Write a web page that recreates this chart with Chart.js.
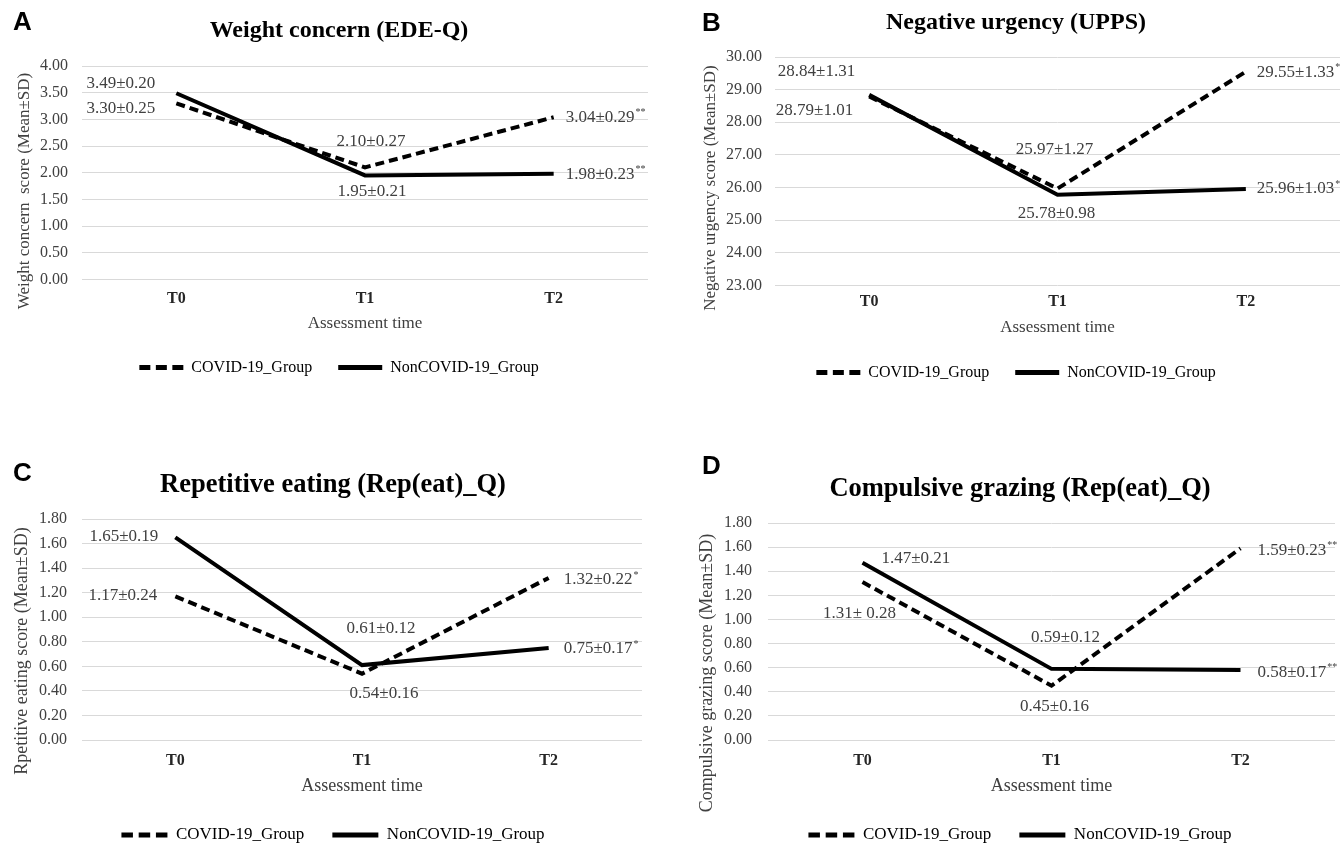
<!doctype html>
<html lang="en">
 <head>
  <meta charset="utf-8">
  <title>COVID-19 vs NonCOVID-19 groups, T0-T2</title>
  <style>
body { margin: 0; width: 1340px; height: 843px; overflow: hidden; background: #fff; position: relative; }
canvas { position: absolute; }
  </style>
 </head>
 <body>
  <canvas id="chartA" width="670" height="390" style="left:0;top:0"></canvas>
  <canvas id="chartB" width="670" height="395" style="left:670px;top:0"></canvas>
  <canvas id="chartC" width="670" height="414" style="left:0;top:440px"></canvas>
  <canvas id="chartD" width="670" height="414" style="left:670px;top:440px"></canvas>

  <script src="https://cdn.jsdelivr.net/npm/chart.js@4.4.1/dist/chart.umd.min.js"></script>
  <script>
// data
const timepoints = ['T0', 'T1', 'T2'];

const weightCovid = [3.30, 2.10, 3.04];
const weightNonCovid = [3.49, 1.95, 1.98];
const weightCovidText = ['3.30±0.25', '2.10±0.27', '3.04±0.29'];
const weightNonCovidText = ['3.49±0.20', '1.95±0.21', '1.98±0.23'];
const weightStars = ['', '', '**'];

const urgencyCovid = [28.79, 25.97, 29.55];
const urgencyNonCovid = [28.84, 25.78, 25.96];
const urgencyCovidText = ['28.79±1.01', '25.97±1.27', '29.55±1.33'];
const urgencyNonCovidText = ['28.84±1.31', '25.78±0.98', '25.96±1.03'];
const urgencyStars = ['', '', '*'];

const repeatCovid = [1.17, 0.54, 1.32];
const repeatNonCovid = [1.65, 0.61, 0.75];
const repeatCovidText = ['1.17±0.24', '0.54±0.16', '1.32±0.22'];
const repeatNonCovidText = ['1.65±0.19', '0.61±0.12', '0.75±0.17'];
const repeatStars = ['', '', '*'];

const grazingCovid = [1.31, 0.45, 1.59];
const grazingNonCovid = [1.47, 0.59, 0.58];
const grazingCovidText = ['1.31± 0.28', '0.45±0.16', '1.59±0.23'];
const grazingNonCovidText = ['1.47±0.21', '0.59±0.12', '0.58±0.17'];
const grazingStars = ['', '', '**'];

const serif = "'Liberation Serif', 'Times New Roman', serif";

// panel letter + rotated y title (Excel centres it a bit lower than chart.js would)
const panelText = {
  id: 'panelText',
  afterDraw(chart, args, opts) {
    const ctx = chart.ctx;
    ctx.save();
    ctx.fillStyle = '#000';
    ctx.font = "bold 26px 'Liberation Sans', Arial, sans-serif";
    ctx.textAlign = 'left';
    ctx.textBaseline = 'middle';
    ctx.fillText(opts.letter, opts.letterAt[0], opts.letterAt[1]);
    ctx.translate(opts.yTitleAt[0], opts.yTitleAt[1]);
    ctx.rotate(-Math.PI / 2);
    ctx.textAlign = 'center';
    ctx.fillStyle = '#404040';
    ctx.font = opts.yTitleSize + 'px ' + serif;
    ctx.fillText(opts.yTitle, 0, 0);
    ctx.restore();
  }
};

// "mean±sd" labels next to each point, stars as superscript
const valueLabels = {
  id: 'valueLabels',
  afterDatasetsDraw(chart, args, opts) {
    const ctx = chart.ctx;
    ctx.save();
    ctx.textBaseline = 'middle';
    ctx.textAlign = 'left';
    ctx.fillStyle = '#404040';
    chart.data.datasets.forEach(function(ds, i) {
      chart.getDatasetMeta(i).data.forEach(function(pt, j) {
        const place = opts.place[i][j];
        const text = opts.text[i][j];
        const stars = opts.stars[j];
        ctx.font = '17px ' + serif;
        const w = ctx.measureText(text).width;
        ctx.font = '10px ' + serif;
        const sw = stars ? ctx.measureText(stars).width + 1 : 0;
        let x = pt.x + place[0];
        if (place[2] === 'right') x -= w + sw;
        else if (place[2] === 'center') x -= (w + sw) / 2;
        const y = pt.y + place[1];
        ctx.font = '17px ' + serif;
        ctx.fillText(text, x, y);
        if (stars) {
          ctx.font = '10px ' + serif;
          ctx.fillText(stars, x + w + 1, y - 5);
        }
      });
    });
    ctx.restore();
  }
};

function makePanel(p) {
  return new Chart(document.getElementById(p.id), {
    type: 'line',
    data: {
      labels: timepoints,
      datasets: [
        {
          label: 'COVID-19_Group',
          data: p.covid,
          borderColor: '#000',
          borderWidth: 4,
          borderDash: [9, 5],
          pointRadius: 0,
          tension: 0
        },
        {
          label: 'NonCOVID-19_Group',
          data: p.noncovid,
          borderColor: '#000',
          borderWidth: 4,
          pointRadius: 0,
          tension: 0
        }
      ]
    },
    options: {
      responsive: false,
      animation: false,
      layout: { padding: { left: p.pad[0], right: p.pad[1], top: 0, bottom: p.pad[2] } },
      scales: {
        x: {
          offset: true,
          grid: { display: false, drawTicks: false },
          border: { display: false },
          ticks: { padding: p.xTickPad, color: '#262626', font: { family: serif, size: 16, weight: 'bold' } },
          title: {
            display: true,
            text: 'Assessment time',
            color: '#404040',
            font: { family: serif, size: p.xTitleSize },
            padding: { top: 0, bottom: p.xTitlePad }
          },
          afterFit: function(scale) { scale.height = p.xHeight; }
        },
        y: {
          min: p.yMin,
          max: p.yMax,
          grid: { color: '#d9d9d9', lineWidth: 1, drawTicks: false },
          border: { display: false },
          ticks: {
            stepSize: p.yStep,
            padding: p.yTickPad,
            color: '#404040',
            font: { family: serif, size: 16 },
            callback: function(v) { return Number(v).toFixed(2); }
          },
          afterFit: function(scale) { scale.width = p.yWidth; }
        }
      },
      plugins: {
        title: {
          display: true,
          text: p.title,
          color: '#000',
          font: { family: serif, size: p.titleSize, weight: 'bold' },
          padding: { top: p.titlePad[0], bottom: p.titlePad[1] }
        },
        legend: {
          position: 'bottom',
          labels: {
            usePointStyle: true,
            pointStyleWidth: p.legendBox,
            padding: p.legendPad,
            color: '#262626',
            font: { family: serif, size: p.legendSize },
            generateLabels: function(chart) {
              return chart.data.datasets.map(function(ds, i) {
                return {
                  text: ds.label,
                  datasetIndex: i,
                  pointStyle: 'line',
                  lineWidth: 5,
                  strokeStyle: '#000',
                  fillStyle: '#000',
                  // three dashes across the sample, like the Excel legend
                  lineDash: ds.borderDash ? [p.legendBox / 4, p.legendBox / 8] : []
                };
              });
            }
          }
        },
        tooltip: { enabled: false },
        panelText: {
          letter: p.letter,
          letterAt: p.letterAt,
          yTitle: p.yTitle,
          yTitleAt: p.yTitleAt,
          yTitleSize: p.yTitleSize
        },
        valueLabels: { text: p.text, stars: p.stars, place: p.place }
      }
    },
    plugins: [panelText, valueLabels]
  });
}

makePanel({
  id: 'chartA', letter: 'A', letterAt: [13, 23],
  title: 'Weight concern (EDE-Q)', titleSize: 24, titlePad: [16.6, 20.6],
  yTitle: 'Weight concern  score (Mean±SD)', yTitleAt: [25, 191], yTitleSize: 17,
  covid: weightCovid, noncovid: weightNonCovid,
  text: [weightCovidText, weightNonCovidText], stars: weightStars,
  place: [
    [[-21, 5, 'right'], [6, -26, 'center'], [12, 0, 'left']],
    [[-21, -10, 'right'], [7, 16, 'center'], [12, 1, 'left']]
  ],
  yMin: 0, yMax: 4, yStep: 0.5,
  pad: [30, 22, 4.5], yWidth: 52, yTickPad: 14,
  xTickPad: 10, xHeight: 54, xTitleSize: 17, xTitlePad: 0,
  legendSize: 16, legendPad: 26, legendBox: 44
});

makePanel({
  id: 'chartB', letter: 'B', letterAt: [32, 24],
  title: 'Negative urgency (UPPS)', titleSize: 24, titlePad: [8.6, 19.6],
  yTitle: 'Negative urgency score (Mean±SD)', yTitleAt: [41, 188], yTitleSize: 17,
  covid: urgencyCovid, noncovid: urgencyNonCovid,
  text: [urgencyCovidText, urgencyNonCovidText], stars: urgencyStars,
  place: [
    [[-16, 14, 'right'], [-3, -39, 'center'], [11, 1, 'left']],
    [[-14, -23, 'right'], [-1, 19, 'center'], [11, 0, 'left']]
  ],
  yMin: 23, yMax: 30, yStep: 1,
  pad: [22, 0, 4.5], yWidth: 83, yTickPad: 13,
  xTickPad: 7, xHeight: 53, xTitleSize: 17, xTitlePad: 0.5,
  legendSize: 16, legendPad: 26, legendBox: 44
});

makePanel({
  id: 'chartC', letter: 'C', letterAt: [13, 34],
  title: 'Repetitive eating (Rep(eat)_Q)', titleSize: 26.5, titlePad: [29.1, 18.1],
  yTitle: 'Rpetitive eating score (Mean±SD)', yTitleAt: [22, 211], yTitleSize: 18,
  covid: repeatCovid, noncovid: repeatNonCovid,
  text: [repeatCovidText, repeatNonCovidText], stars: repeatStars,
  place: [
    [[-18, -1, 'right'], [22, 20, 'center'], [15, 2, 'left']],
    [[-17, -1, 'right'], [19, -37, 'center'], [15, 1, 'left']]
  ],
  yMin: 0, yMax: 1.8, yStep: 0.2,
  pad: [24, 28, 0.5], yWidth: 58, yTickPad: 15,
  xTickPad: 11, xHeight: 58.5, xTitleSize: 18, xTitlePad: 1.7,
  legendSize: 17, legendPad: 28, legendBox: 46
});

makePanel({
  id: 'chartD', letter: 'D', letterAt: [32, 27],
  title: 'Compulsive grazing (Rep(eat)_Q)', titleSize: 26.5, titlePad: [33.1, 18.1],
  yTitle: 'Compulsive grazing score (Mean±SD)', yTitleAt: [37, 233], yTitleSize: 18,
  covid: grazingCovid, noncovid: grazingNonCovid,
  text: [grazingCovidText, grazingNonCovidText], stars: grazingStars,
  place: [
    [[-3, 31, 'center'], [3, 21, 'center'], [17, 2, 'left']],
    [[19, -4, 'left'], [14, -31, 'center'], [17, 2, 'left']]
  ],
  yMin: 0, yMax: 1.8, yStep: 0.2,
  pad: [35, 5, 0.5], yWidth: 63, yTickPad: 16,
  xTickPad: 11, xHeight: 58.5, xTitleSize: 18, xTitlePad: 1.7,
  legendSize: 17, legendPad: 28, legendBox: 46
});
  </script>
 </body>
</html>
